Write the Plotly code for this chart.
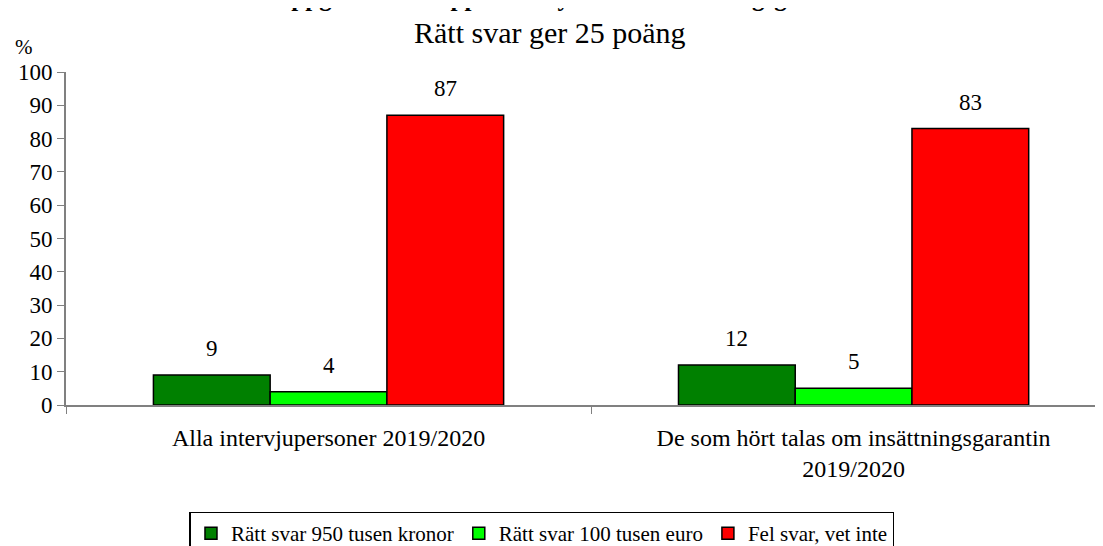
import plotly.graph_objects as go

categories = ["Alla intervjupersoner 2019/2020",
              "De som hört talas om insättningsgarantin<br>2019/2020"]
series_names = ["Rätt svar 950 tusen kronor", "Rätt svar 100 tusen euro", "Fel svar, vet inte"]
series_values = [[9, 12], [4, 5], [87, 83]]
series_colors = ["#008000", "#00FF00", "#FF0000"]
y_ticks = [0, 10, 20, 30, 40, 50, 60, 70, 80, 90, 100]

FONT = "Liberation Serif, Times New Roman, serif"

fig = go.Figure()
for name, vals, col in zip(series_names, series_values, series_colors):
    fig.add_trace(go.Bar(
        name=name, x=categories, y=vals,
        marker=dict(color=col, line=dict(color="black", width=1.5)),
        text=[str(v) for v in vals], textposition="none",
    ))

# value labels above bars
n = len(series_names)
bw = (1 - 0.333) / n
for i, vals in enumerate(series_values):
    for j, v in enumerate(vals):
        fig.add_annotation(x=j - (1 - 0.333) / 2 + bw * (i + 0.5), y=v, xref="x", yref="y",
                           text=str(v), showarrow=False, yanchor="bottom", yshift=12,
                           font=dict(family=FONT, size=23, color="black"))

fig.add_annotation(text="<b>Andel som uppger rätt belopp som skyddas av insättningsgarantin</b>",
                   xref="paper", yref="paper", x=0.43, y=1.225, yanchor="middle",
                   showarrow=False, font=dict(family=FONT, size=25, color="black"))
fig.add_annotation(text="Rätt svar ger 25 poäng",
                   xref="paper", yref="paper", x=0.467, y=1.12, yanchor="middle",
                   showarrow=False, font=dict(family=FONT, size=30, color="black"))
fig.add_annotation(text="%", xref="paper", yref="paper", x=-0.051, y=1.075, yanchor="middle",
                   showarrow=False, font=dict(family=FONT, size=21, color="black"))

fig.update_layout(
    width=1095, height=538,
    margin=dict(l=58, r=0, t=64, b=141, autoexpand=False),
    paper_bgcolor="white", plot_bgcolor="white",
    barmode="group", bargap=0.333, bargroupgap=0,
    font=dict(family=FONT, size=21, color="black"),
    showlegend=True,
    legend=dict(orientation="h", x=0.459, xanchor="center", y=-0.32, yanchor="top",
                bordercolor="black", borderwidth=1.5,
                font=dict(family=FONT, size=21, color="black"),
                itemwidth=30, tracegroupgap=0),
)
fig.update_xaxes(range=[-0.5, 1.475], showline=True, linecolor="#808080", linewidth=2,
                 ticks="outside", tickson="boundaries", ticklen=7, tickcolor="#808080",
                 showgrid=False, automargin=False, ticklabelstandoff=10,
                 tickfont=dict(family=FONT, size=24))
fig.update_yaxes(range=[0, 100], tickvals=y_ticks, showline=True, linecolor="#808080",
                 linewidth=2, ticks="outside", ticklen=7, tickcolor="#808080",
                 showgrid=False, zeroline=False, automargin=False,
                 tickfont=dict(family=FONT, size=23))

fig.write_html("out.html")
